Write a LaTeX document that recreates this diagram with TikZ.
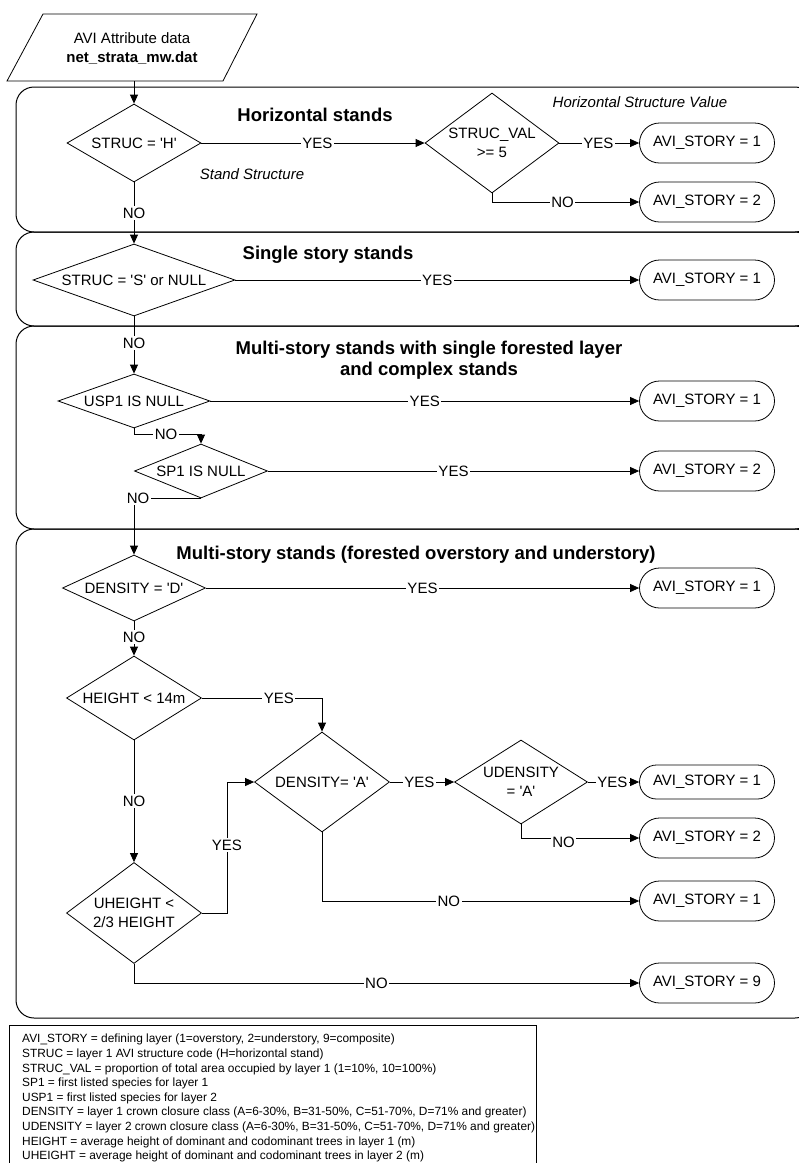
\documentclass[tikz,border=0pt]{standalone}
\usepackage{fontspec}
\setmainfont{Liberation Sans}[Ligatures=TeXOff]
\usetikzlibrary{arrows.meta,shapes.geometric,shapes.misc,positioning}

\newcommand{\dfont}{\fontsize{15}{19}\selectfont}
\newcommand{\tfont}{\fontsize{18.5}{21}\selectfont\bfseries}
\newcommand{\lfont}{\fontsize{11.9}{14.6}\selectfont}

\tikzset{
  decision/.style={diamond, draw, line width=0.8pt, inner sep=0pt, align=center, font=\dfont},
  term/.style={rounded rectangle, draw, line width=0.8pt, minimum width=135pt, minimum height=40pt, inner sep=0pt, font=\dfont},
  arr/.style={line width=0.8pt, -{Triangle[length=9pt,width=8pt]}},
  lbl/.style={fill=white, inner sep=1.5pt, font=\dfont},
  panel/.style={draw, line width=1pt, rounded corners=18pt},
  ttl/.style={font=\tfont, align=center},
  note/.style={font=\dfont\itshape},
}

\begin{document}
\begin{tikzpicture}[x=1pt, y=-1pt]
    \useasboundingbox (0,0) rectangle (799,1163);

    % Panels
    \draw[panel] (16,87) rectangle (813,232);
    \draw[panel] (16,232) rectangle (813,326);
    \draw[panel] (16,326) rectangle (813,529);
    \draw[panel] (16,529) rectangle (813,1018);

    % Input data
    \draw[line width=0.8pt] (7,81) -- (43,14) -- (257,14) -- (223,81) -- cycle;
    \node[align=center, font=\dfont] (src) at (132,48) {AVI Attribute data\\\textbf{net\_strata\_mw.dat}};
    \coordinate (srcb) at (134,81);

    % Horizontal stands
    \node[ttl] (hTitle) at (315,115) {Horizontal stands};
    \node[note] (hNote) at (252,174) {Stand Structure};
    \node[note] (vNote) at (640,102) {Horizontal Structure Value};
    \node[decision, minimum width=134pt, minimum height=78pt, shape aspect=1.7] (dH) at (134,143) {STRUC = 'H'};
    \node[decision, minimum width=134pt, minimum height=100pt, shape aspect=1.34] (dV) at (492,143) {STRUC\_VAL\\>= 5};
    \node[term] (t1) at (707,143) {AVI\_STORY = 1};
    \node[term] (t2) at (707,202) {AVI\_STORY = 2};

    % Single story stands
    \node[ttl] (sTitle) at (328,255) {Single story stands};
    \node[decision, minimum width=202pt, minimum height=72pt, shape aspect=2.8] (dS) at (134,280) {STRUC = 'S' or NULL};
    \node[term] (t3) at (707,280) {AVI\_STORY = 1};

    % Multi-story, single forested layer
    \node[ttl] (mTitle) at (429,360) {Multi-story stands with single forested layer\\and complex stands};
    \node[decision, minimum width=152pt, minimum height=54pt, shape aspect=2.8] (dU) at (134,401) {USP1 IS NULL};
    \node[decision, minimum width=133pt, minimum height=54pt, shape aspect=2.46] (dP) at (201,471) {SP1 IS NULL};
    \node[term] (t4) at (707,401) {AVI\_STORY = 1};
    \node[term] (t5) at (707,471) {AVI\_STORY = 2};

    % Multi-story, overstory and understory
    \node[ttl] (oTitle) at (416,555) {Multi-story stands (forested overstory and understory)};
    \node[decision, minimum width=143pt, minimum height=66pt, shape aspect=2.17] (dD) at (134,588) {DENSITY = 'D'};
    \node[term] (t6) at (707,588) {AVI\_STORY = 1};
    \node[decision, minimum width=135pt, minimum height=84pt, shape aspect=1.6] (dHt) at (134,698) {HEIGHT < 14m};
    \node[decision, minimum width=135pt, minimum height=100pt, shape aspect=1.35] (dA) at (322,782) {DENSITY= 'A'};
    \node[decision, minimum width=133pt, minimum height=84pt, shape aspect=1.58] (dUD) at (521,782) {UDENSITY\\= 'A'};
    \node[term, minimum height=34pt] (t7) at (707,782) {AVI\_STORY = 1};
    \node[term] (t8) at (707,838) {AVI\_STORY = 2};
    \node[term] (t9) at (707,901) {AVI\_STORY = 1};
    \node[decision, minimum width=135pt, minimum height=101pt, shape aspect=1.34] (dUH) at (134,913) {UHEIGHT <\\2/3 HEIGHT};
    \node[term] (t10) at (707,983) {AVI\_STORY = 9};

    % Connectors
    \draw[arr] (srcb) -- (dH.north);
    \draw[arr] (dH.east) -- node[lbl, pos=0.52] {YES} (dV.west);
    \draw[arr] (dV.east) -- node[lbl, pos=0.49] {YES} (t1.west);
    \draw[arr] (dV.south) |- node[lbl, pos=0.74] {NO} (t2.west);
    \draw[arr] (dH.south) -- node[lbl, pos=0.5] {NO} (dS.north);
    \draw[arr] (dS.east) -- node[lbl, pos=0.5] {YES} (t3.west);
    \draw[arr] (dS.south) -- node[lbl, pos=0.47] {NO} (dU.north);
    \draw[arr] (dU.east) -- node[lbl, pos=0.5] {YES} (t4.west);
    \draw[arr] (dU.south) -- ++(0,6) -| node[lbl, pos=0.24] {NO} (dP.north);
    \draw[arr] (dP.east) -- node[lbl, pos=0.5] {YES} (t5.west);
    \draw[arr] (dP.south) -| node[lbl, pos=0.5, xshift=4pt] {NO} (dD.north);
    \draw[arr] (dD.east) -- node[lbl, pos=0.5] {YES} (t6.west);
    \draw[arr] (dD.south) -- node[lbl, pos=0.46] {NO} (dHt.north);
    \draw[arr] (dHt.east) -| node[lbl, pos=0.32] {YES} (dA.north);
    \draw[arr] (dHt.south) -- node[lbl, pos=0.5] {NO} (dUH.north);
    \draw[arr] (dUH.east) -- ++(25,0) |- node[lbl, pos=0.26] {YES} (dA.west);
    \draw[arr] (dUH.south) |- node[lbl, pos=0.74] {NO} (t10.west);
    \draw[arr] (dA.east) -- node[lbl, pos=0.46] {YES} (dUD.west);
    \draw[arr] (dUD.east) -- node[lbl, pos=0.48] {YES} (t7.west);
    \draw[arr] (dUD.south) |- node[lbl, pos=0.68, yshift=-4pt] {NO} (t8.west);
    \draw[arr] (dA.south) |- node[lbl, pos=0.70] {NO} (t9.west);

    % Key
    \draw[line width=0.8pt] (9,1025) rectangle (536,1175);
    \node[font=\lfont, align=left, anchor=north west, inner sep=0pt] (key) at (22,1034) {%
      AVI\_STORY = defining layer (1=overstory, 2=understory, 9=composite)\\
      STRUC = layer 1 AVI structure code (H=horizontal stand)\\
      STRUC\_VAL = proportion of total area occupied by layer 1 (1=10\%, 10=100\%)\\
      SP1 = first listed species for layer 1\\
      USP1 = first listed species for layer 2\\
      DENSITY = layer 1 crown closure class (A=6-30\%, B=31-50\%, C=51-70\%, D=71\% and greater)\\
      UDENSITY = layer 2 crown closure class (A=6-30\%, B=31-50\%, C=51-70\%, D=71\% and greater)\\
      HEIGHT = average height of dominant and codominant trees in layer 1 (m)\\
      UHEIGHT = average height of dominant and codominant trees in layer 2 (m)};
\end{tikzpicture}
\end{document}
